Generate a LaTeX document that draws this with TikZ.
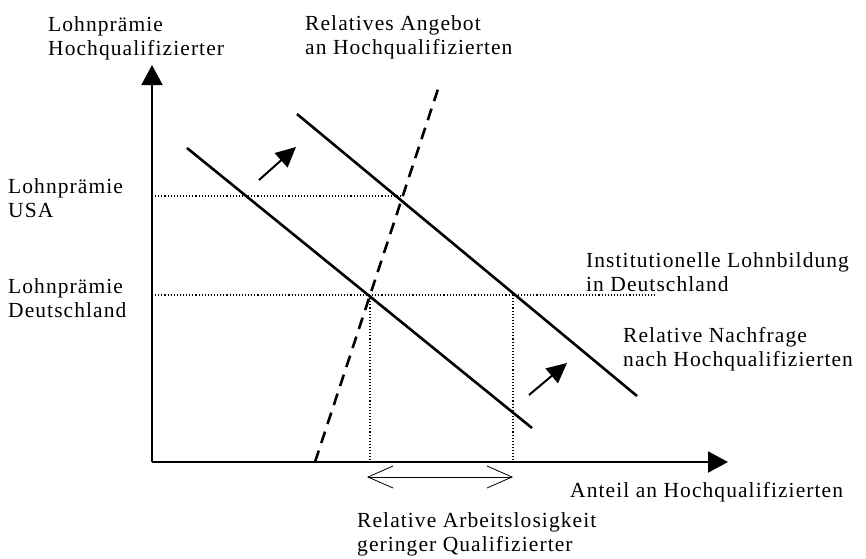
\documentclass[tikz,border=0pt]{standalone}
\usepackage{fontspec}
\setmainfont{Liberation Serif}[LetterSpace=5]
\usetikzlibrary{arrows.meta}
\begin{document}
\begin{tikzpicture}[x=1pt,y=-1pt,
  lbl/.style={anchor=base west,inner sep=0pt,align=left,font=\fontsize{21.5}{24}\selectfont},
  axisarrow/.style={line width=2pt,-{Triangle[length=20pt,width=21pt]}},
  curve/.style={line width=2.6pt},
  supply/.style={line width=2.6pt,dash pattern=on 12pt off 8pt},
  dotline/.style={line width=1.1pt,dash pattern=on 1.1pt off 2pt},
  shiftarrow/.style={line width=2pt,-{Triangle[length=20pt,width=19pt]}},
  gaparrow/.style={line width=0.8pt,{Straight Barb[length=25pt,width=22pt]}-{Straight Barb[length=25pt,width=22pt]}}]
\useasboundingbox (0,0) rectangle (866,558);
% axes
\coordinate (O) at (152,462);
\coordinate (ytop) at (152,65);
\coordinate (xend) at (728,462);
\draw[axisarrow] (O) -- (ytop);
\draw[axisarrow] (O) -- (xend);
% demand curves
\coordinate (d1a) at (187,148);
\coordinate (d1b) at (532,428);
\coordinate (d2a) at (297,114);
\coordinate (d2b) at (637,396);
\draw[curve] (d1a) -- (d1b);
\draw[curve] (d2a) -- (d2b);
% supply
\coordinate (sa) at (315,462);
\coordinate (sb) at (440,83);
\draw[supply] (sa) -- (sb);
% dotted guides
\coordinate (yUSA) at (152,196);
\coordinate (pUSA) at (402,196);
\coordinate (yDE) at (152,295);
\coordinate (pDE) at (655,295);
\coordinate (v1t) at (370,295);
\coordinate (v1b) at (370,462);
\coordinate (v2t) at (513,295);
\coordinate (v2b) at (513,462);
\draw[dotline] (yUSA) -- (pUSA);
\draw[dotline] (yDE) -- (pDE);
\draw[dotline] (v1t) -- (v1b);
\draw[dotline] (v2t) -- (v2b);
% shift arrows
\coordinate (s1a) at (259,180);
\coordinate (s1b) at (296,147);
\coordinate (s2a) at (529,395);
\coordinate (s2b) at (567,363);
\draw[shiftarrow] (s1a) -- (s1b);
\draw[shiftarrow] (s2a) -- (s2b);
% unemployment gap
\coordinate (g1) at (367,477);
\coordinate (g2) at (513,477);
\draw[gaparrow] (g1) -- (g2);
% labels (anchor = baseline of last line)
\node[lbl] (tY) at (48,55) {Lohnprämie\\Hochqualifizierter};
\node[lbl] (tS) at (305,54) {Relatives Angebot\\an Hochqualifizierten};
\node[lbl] (tUSA) at (8,217) {Lohnprämie\\USA};
\node[lbl] (tDE) at (8,317) {Lohnprämie\\Deutschland};
\node[lbl] (tInst) at (586,291) {Institutionelle Lohnbildung\\in Deutschland};
\node[lbl] (tN) at (623,366) {Relative Nachfrage\\nach Hochqualifizierten};
\node[lbl] (tX) at (570,497) {Anteil an Hochqualifizierten};
\node[lbl] (tA) at (357,551) {Relative Arbeitslosigkeit\\geringer Qualifizierter};
\end{tikzpicture}
\end{document}
